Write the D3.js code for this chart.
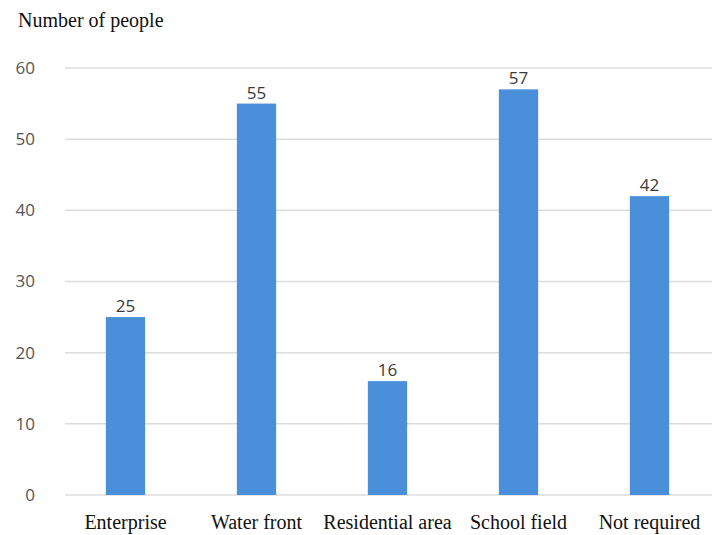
<!DOCTYPE html>
<html><head><meta charset="utf-8">
<script src="https://cdn.jsdelivr.net/npm/d3@7"></script>
<style>body{margin:0;background:#fff;}</style>
</head><body>
<svg id="c" width="723" height="535"></svg>
<script>
const categories = ["Enterprise", "Water front", "Residential area", "School field", "Not required"];
const values = [25, 55, 16, 57, 42];
const yTicks = [0, 10, 20, 30, 40, 50, 60];
const yTitle = "Number of people";

const svg = d3.select("#c");
const x = d3.scaleBand().domain(categories).range([60, 715]).paddingInner(0.7).paddingOuter(0.35);
const y = d3.scaleLinear().domain([0, 60]).range([495, 68]);

// gridlines
svg.append("g").selectAll("line").data(yTicks).join("line")
  .attr("x1", 65).attr("x2", 712)
  .attr("y1", d => y(d)).attr("y2", d => y(d))
  .attr("stroke", "#dcdcdc").attr("stroke-width", 1.5);

// y labels
svg.append("g").selectAll("text").data(yTicks).join("text")
  .attr("x", 35).attr("y", d => y(d)).attr("dy", "0.35em")
  .attr("text-anchor", "end")
  .attr("font-family", "Open Sans, DejaVu Sans, sans-serif").attr("font-size", 17)
  .attr("fill", "#555").text(d => d);

// bars
svg.append("g").selectAll("rect").data(values).join("rect")
  .attr("x", (d, i) => x(categories[i])).attr("width", x.bandwidth())
  .attr("y", d => y(d)).attr("height", d => y(0) - y(d))
  .attr("fill", "#4a8fd9");

// data labels
svg.append("g").selectAll("text").data(values).join("text")
  .attr("x", (d, i) => x(categories[i]) + x.bandwidth() / 2)
  .attr("y", d => y(d) - 5)
  .attr("text-anchor", "middle")
  .attr("font-family", "Open Sans, DejaVu Sans, sans-serif").attr("font-size", 17)
  .attr("fill", "#3a3a3a").text(d => d);

// x labels
svg.append("g").selectAll("text").data(categories).join("text")
  .attr("x", d => x(d) + x.bandwidth() / 2).attr("y", 529)
  .attr("text-anchor", "middle")
  .attr("font-family", "Liberation Serif, Times New Roman, serif").attr("font-size", 20)
  .attr("fill", "#111").text(d => d);

// title
svg.append("text").attr("x", 18).attr("y", 27)
  .attr("font-family", "Liberation Serif, Times New Roman, serif").attr("font-size", 20)
  .attr("fill", "#111").text(yTitle);
</script>
</body></html>
